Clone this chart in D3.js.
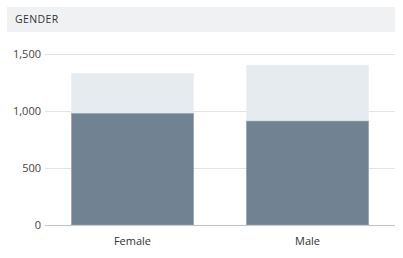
<!DOCTYPE html>
<html>
<head>
<meta charset="utf-8">
<script src="https://cdn.jsdelivr.net/npm/d3@7"></script>
<style>
  body { margin: 0; background: #fff; font-family: "Open Sans", "Noto Sans", sans-serif; }
</style>
</head>
<body>
<div id="chart"></div>
<script>
// chart values
const categories = ["Female", "Male"];
const totals = [1331, 1403];      // light bars
const selected = [980, 912];      // dark bars
const yTicks = [0, 500, 1000, 1500];

const w = 403, h = 258;
const svg = d3.select("#chart").append("svg")
  .attr("width", w).attr("height", h);

// header strip
svg.append("rect")
  .attr("x", 7).attr("y", 7).attr("width", 388).attr("height", 25)
  .attr("fill", "#f0f1f3");
svg.append("text")
  .attr("x", 15).attr("y", 23)
  .attr("font-size", 10.5).attr("fill", "#333")
  .attr("letter-spacing", 0.4)
  .text("GENDER");

const x = d3.scaleBand().domain(categories).range([45, 395])
  .paddingInner(0.3).paddingOuter(0.15);
const y = d3.scaleLinear().domain([0, 1500]).range([225, 54]);

// gridlines
svg.selectAll(".grid").data(yTicks).enter().append("line")
  .attr("x1", 45).attr("x2", 395)
  .attr("y1", d => y(d) + 0.5).attr("y2", d => y(d) + 0.5)
  .attr("stroke", d => d === 0 ? "#c4c4c4" : "#e4e4e4");

// y labels
svg.selectAll(".ylab").data(yTicks).enter().append("text")
  .attr("x", 41).attr("y", d => y(d) + 4)
  .attr("text-anchor", "end").attr("font-size", 11).attr("fill", "#444")
  .text(d => d3.format(",")(d));

// total bars
svg.selectAll(".tot").data(categories).enter().append("rect")
  .attr("x", d => x(d)).attr("width", x.bandwidth())
  .attr("y", (d, i) => y(totals[i]))
  .attr("height", (d, i) => y(0) - y(totals[i]))
  .attr("fill", "#e6ebf0").attr("stroke", "#eef1f4").attr("stroke-width", 0.5);

// selected bars
svg.selectAll(".sel").data(categories).enter().append("rect")
  .attr("x", d => x(d)).attr("width", x.bandwidth())
  .attr("y", (d, i) => y(selected[i]))
  .attr("height", (d, i) => y(0) - y(selected[i]))
  .attr("fill", "#718393").attr("stroke", "#a9b4be").attr("stroke-width", 0.5);

// x labels
svg.selectAll(".xlab").data(categories).enter().append("text")
  .attr("x", d => x(d) + x.bandwidth() / 2).attr("y", 245)
  .attr("text-anchor", "middle").attr("font-size", 11).attr("fill", "#333")
  .text(d => d);
</script>
</body>
</html>
